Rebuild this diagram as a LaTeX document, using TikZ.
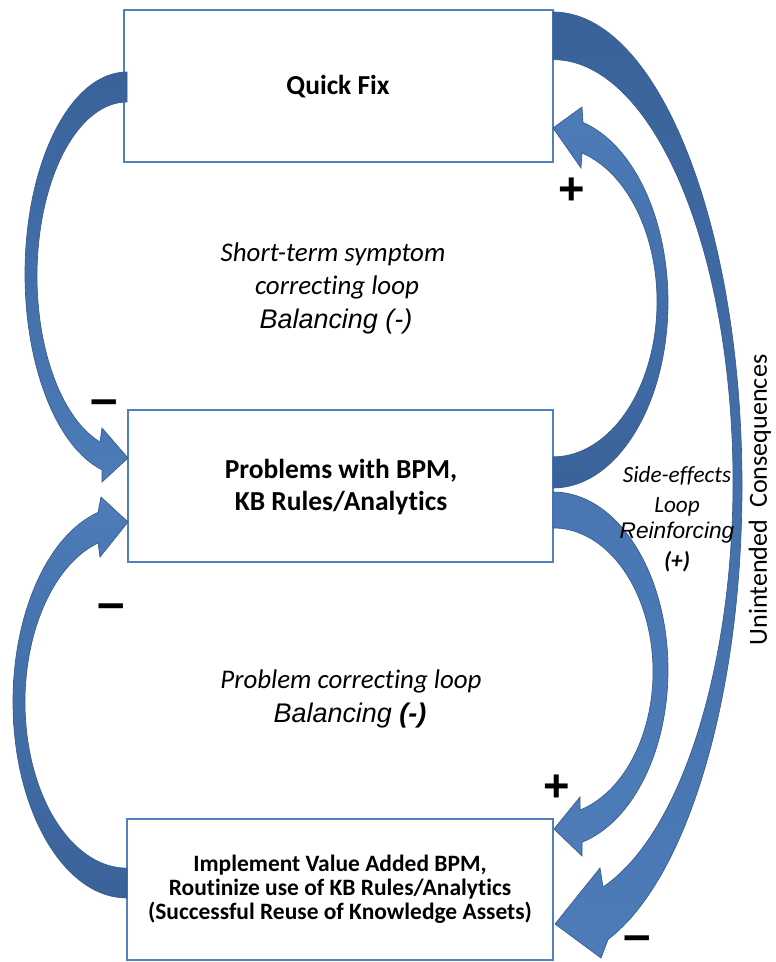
\documentclass[tikz,border=0pt]{standalone}
\usepackage{fontspec}
\setmainfont{Carlito}[Ligatures=NoCommon]
\newfontfamily\arialf{Liberation Sans}[Ligatures=NoCommon]
\usetikzlibrary{fit}
\definecolor{boxblue}{RGB}{79,129,189}
\definecolor{adark}{RGB}{58,98,154}
\definecolor{alight}{RGB}{77,124,185}
\definecolor{aline}{RGB}{55,92,140}
\begin{document}
\begin{tikzpicture}[x=0.75pt,y=-0.75pt,
  boxst/.style={draw=boxblue, line width=1.9pt, fill=white, inner sep=0pt, outer sep=0pt},
  arrowst/.style={draw=aline, line width=0.5pt},
  bigbold/.style={font=\fontsize{20.6}{24}\selectfont\bfseries, anchor=base, inner sep=0pt},
  smallbold/.style={font=\fontsize{17.6}{20}\selectfont\bfseries, anchor=base, inner sep=0pt},
  loopit/.style={font=\fontsize{20.2}{24}\selectfont\itshape, anchor=base, inner sep=0pt},
  looparial/.style={font=\fontsize{20.2}{24}\selectfont\arialf\itshape, anchor=base, inner sep=0pt},
  sideit/.style={font=\fontsize{17.4}{20}\selectfont\itshape, anchor=base, inner sep=0pt},
  sidearial/.style={font=\fontsize{17}{20}\selectfont\arialf\itshape, anchor=base, inner sep=0pt},
  plussign/.style={font=\fontsize{34}{34}\selectfont\arialf\bfseries, anchor=base, inner sep=0pt},
  minussign/.style={font=\fontsize{37}{37}\selectfont\arialf\bfseries, anchor=base, inner sep=0pt}
]
\useasboundingbox (0,0) rectangle (775,962);
\fill[white] (0,0) rectangle (775,962);

% boxes
\node[boxst, fit={(124,10) (553,162)}] (qf) {};
\node[boxst, fit={(128,410) (553,562)}] (prob) {};
\node[boxst, fit={(127,819) (553,960)}] (impl) {};

% arrow 1: Quick Fix -> Problems (left)
\path[arrowst, top color=adark, bottom color=alight]
  (127,72) arc[start angle=270, end angle=104.18, x radius=102, y radius=202]
  -- (102,482) -- (128,458) -- (102,428) -- (100,442)
  arc[start angle=107.46, end angle=270, x radius=90, y radius=174] -- cycle;

% arrow 4: Implement -> Problems (left)
\path[arrowst, top color=alight, bottom color=adark]
  (127,898) arc[start angle=90, end angle=255.26, x radius=114, y radius=196]
  -- (101,497) -- (128,522) -- (100,557) -- (98,543)
  arc[start angle=253.48, end angle=90, x radius=102, y radius=166] -- cycle;

% arrow 2: Problems -> Quick Fix (right)
\path[arrowst, top color=alight, bottom color=adark]
  (553,488) arc[start angle=90, end angle=-74.88, x radius=115, y radius=186]
  -- (582,107) -- (553,128) -- (581,168) -- (582,153)
  arc[start angle=-73.81, end angle=90, x radius=104, y radius=155] -- cycle;

% arrow 3: Problems -> Implement (right)
\path[arrowst, top color=alight!80!adark, bottom color=alight]
  (553,492) arc[start angle=-90, end angle=75.39, x radius=115, y radius=178]
  -- (582,856) -- (554,829) -- (580,797) -- (580,810)
  arc[start angle=74.34, end angle=-90, x radius=100, y radius=143.7] -- cycle;

% arrow 5: Quick Fix -> Implement (unintended consequences)
\path[arrowst, top color=adark, bottom color=alight]
  (553,12) arc[start angle=-90, end angle=73.08, x radius=189, y radius=474]
  -- (601,958) -- (555,924) -- (600,868) -- (603,887)
  arc[start angle=73.87, end angle=-90, x radius=180, y radius=422] -- cycle;

% box texts
\node[bigbold] (qft) at (338,95) {Quick Fix};
\node[bigbold] (pt1) at (341,478) {Problems with BPM,};
\node[bigbold] (pt2) at (341,510) {KB Rules/Analytics};
\node[smallbold] (it1) at (340,871) {Implement Value Added BPM,};
\node[smallbold] (it2) at (340,895) {Routinize use of KB Rules/Analytics};
\node[smallbold] (it3) at (340,919) {(Successful Reuse of Knowledge Assets)};

% loop labels
\node[loopit] (s1) at (333,262) {Short-term symptom};
\node[loopit] (s2) at (337,295) {correcting loop};
\node[looparial] (s3) at (336,328) {Balancing (-)};
\node[loopit] (c1) at (351,688) {Problem correcting loop};
\node[looparial] (c2) at (350,722) {Balancing \textbf{(-)}};
\node[sideit] (e1) at (677,482) {Side-effects};
\node[sideit] (e2) at (677,512) {Loop};
\node[sidearial] (e3) at (677,538) {Reinforcing};
\node[sideit, font=\fontsize{17.4}{20}\selectfont\itshape\bfseries] (e4) at (677,568) {(+)};
\node[font=\fontsize{19.6}{24}\selectfont, rotate=90, inner sep=0pt] (uc) at (760,500) {Unintended\ \ Consequences};

% signs
\node[plussign] (pl1) at (572,205) {+};
\node[plussign] (pl2) at (557,801) {+};
\node[minussign] (mi1) at (104,415) {–};
\node[minussign] (mi2) at (111,619) {–};
\node[minussign] (mi3) at (637,951) {–};
\end{tikzpicture}
\end{document}
